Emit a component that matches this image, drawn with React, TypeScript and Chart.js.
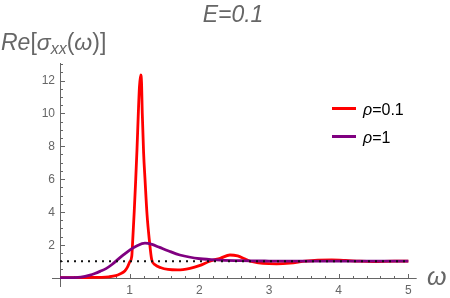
import React, { useEffect, useRef } from "react";
import { Chart, registerables } from "chart.js";

Chart.register(...registerables);

// ---- data ----
const omegaRed = [
  0, 0.2, 0.4, 0.6, 0.7, 0.8, 0.86, 0.93, 0.97, 1.0, 1.03, 1.044, 1.065, 1.087,
  1.105, 1.124, 1.14, 1.158, 1.17, 1.181, 1.2, 1.22, 1.25, 1.282, 1.316, 1.36,
  1.45, 1.55, 1.69, 1.866, 2.0, 2.15, 2.3, 2.44, 2.55, 2.65, 2.73, 2.85, 3.0,
  3.11, 3.3, 3.52, 3.7, 3.9, 4.1, 4.3, 4.5, 4.8, 5.0,
];
const sigmaRed = [
  0, 0, 0.01, 0.02, 0.05, 0.12, 0.22, 0.4, 0.65, 0.95, 1.3, 2.3, 4.0, 6.0,
  7.8, 10.0, 11.6, 12.35, 11.9, 10.0, 7.6, 6.0, 3.8, 2.3, 1.1, 0.8,
  0.6, 0.5, 0.47, 0.57, 0.73, 1.0, 1.18, 1.38, 1.32, 1.15, 1.0, 0.9, 0.85,
  0.84, 0.88, 1.0, 1.06, 1.08, 1.05, 1.0, 0.98, 1.0, 1.0,
];
const omegaPurple = [
  0, 0.2, 0.3, 0.43, 0.5, 0.574, 0.66, 0.746, 0.861, 0.93, 1.005, 1.1, 1.22,
  1.32, 1.43, 1.55, 1.72, 2.01, 2.3, 2.6, 3.0, 3.5, 4.0, 4.5, 5.0,
];
const sigmaPurple = [
  0, 0.005, 0.03, 0.15, 0.25, 0.38, 0.55, 0.8, 1.22, 1.45, 1.69, 1.93, 2.1,
  2.02, 1.84, 1.64, 1.38, 1.15, 1.07, 1.03, 1.01, 1.0, 1.0, 1.0, 1.0,
];
const refOmega = [0, 5];
const refSigma = [1, 1];

const xMajorTicks = [1, 2, 3, 4, 5];
const yMajorTicks = [2, 4, 6, 8, 10, 12];
const legendRho = ["0.1", "1"];
const titleText = "E=0.1";

const RED = "#ff0000";
const PURPLE = "#800080";
const GRAY = "#666666";
const FONT = "'Liberation Sans', Arial, sans-serif";

type Seg = { t: string; it?: boolean; size: number; dy?: number };

function drawSegs(ctx: CanvasRenderingContext2D, segs: Seg[], x: number, y: number, color: string, align: "left" | "center" = "left") {
  ctx.save();
  ctx.fillStyle = color;
  ctx.textBaseline = "alphabetic";
  ctx.textAlign = "left";
  let total = 0;
  for (const s of segs) {
    ctx.font = `${s.it ? "italic " : ""}${s.size}px ${FONT}`;
    total += ctx.measureText(s.t).width;
  }
  let cx = align === "center" ? x - total / 2 : x;
  for (const s of segs) {
    ctx.font = `${s.it ? "italic " : ""}${s.size}px ${FONT}`;
    ctx.fillText(s.t, cx, y + (s.dy || 0));
    cx += ctx.measureText(s.t).width;
  }
  ctx.restore();
}

const axesPlugin = {
  id: "mmaAxes",
  beforeDatasetsDraw(chart: any) {
    const { ctx, chartArea } = chart;
    const xs = chart.scales.x;
    const ys = chart.scales.y;
    const x0 = Math.round(xs.getPixelForValue(0)) + 0.5;
    const y0 = Math.round(ys.getPixelForValue(0)) + 0.5;
    ctx.save();
    ctx.strokeStyle = GRAY;
    ctx.lineWidth = 1;
    ctx.beginPath();
    ctx.moveTo(chartArea.left, y0);
    ctx.lineTo(chartArea.right, y0);
    ctx.moveTo(x0, chartArea.top);
    ctx.lineTo(x0, chartArea.bottom);
    // x ticks (minor every 0.2, major on integers)
    for (let i = 1; i <= 25; i++) {
      const v = i * 0.2;
      const px = Math.round(xs.getPixelForValue(v)) + 0.5;
      const major = i % 5 === 0;
      ctx.moveTo(px, y0);
      ctx.lineTo(px, y0 - (major ? 4.5 : 2.5));
    }
    // y ticks (minor every 0.5, major every 2)
    for (let i = 1; i <= 26; i++) {
      const v = i * 0.5;
      const py = Math.round(ys.getPixelForValue(v)) + 0.5;
      const major = i % 4 === 0;
      ctx.moveTo(x0, py);
      ctx.lineTo(x0 + (major ? 4.5 : 2.5), py);
    }
    ctx.stroke();

    ctx.fillStyle = GRAY;
    ctx.font = `12px ${FONT}`;
    ctx.textAlign = "center";
    ctx.textBaseline = "alphabetic";
    for (const v of xMajorTicks) {
      ctx.fillText(String(v), xs.getPixelForValue(v), 293.5);
    }
    ctx.textAlign = "right";
    ctx.textBaseline = "middle";
    for (const v of yMajorTicks) {
      ctx.fillText(String(v), x0 - 5.5, ys.getPixelForValue(v) + 0.5);
    }
    ctx.restore();
  },
  afterDraw(chart: any) {
    const { ctx } = chart;
    // title
    drawSegs(ctx, [
      { t: titleText, it: true, size: 23 },
    ], 233, 21.5, GRAY, "center");
    // y label
    drawSegs(ctx, [
      { t: "Re", it: true, size: 23 },
      { t: "[", size: 23 },
      { t: "σ", it: true, size: 23 },
      { t: "xx", it: true, size: 16, dy: 4 },
      { t: "(", size: 23 },
      { t: "ω", it: true, size: 23 },
      { t: ")", size: 23 },
      { t: "]", size: 23 },
    ], 1, 50, GRAY);
    // x label
    drawSegs(ctx, [{ t: "ω", it: true, size: 25 }], 427, 285, GRAY);
    // legend
    const rows = [
      { color: RED, rho: legendRho[0], y: 108.5 },
      { color: PURPLE, rho: legendRho[1], y: 136.5 },
    ];
    ctx.save();
    for (const r of rows) {
      ctx.strokeStyle = r.color;
      ctx.lineWidth = 3;
      ctx.beginPath();
      ctx.moveTo(332, r.y);
      ctx.lineTo(356, r.y);
      ctx.stroke();
      drawSegs(ctx, [
        { t: "ρ", it: true, size: 16 },
        { t: "=" + r.rho, size: 16 },
      ], 363, r.y + 6, "#000000");
    }
    ctx.restore();
  },
};

function pts(xs: number[], ys: number[]) {
  return xs.map((x, i) => ({ x, y: ys[i] }));
}

export default function App() {
  const ref = useRef<HTMLCanvasElement | null>(null);
  useEffect(() => {
    if (!ref.current) return;
    const chart = new Chart(ref.current, {
      type: "line",
      data: {
        datasets: [
          {
            label: "ref",
            data: pts(refOmega, refSigma),
            borderColor: "#111111",
            borderWidth: 2,
            borderDash: [2, 5],
            pointRadius: 0,
            fill: false,
          },
          {
            label: "ρ=1",
            data: pts(omegaPurple, sigmaPurple),
            borderColor: PURPLE,
            borderWidth: 2.8,
            pointRadius: 0,
            cubicInterpolationMode: "monotone",
            fill: false,
          },
          {
            label: "ρ=0.1",
            data: pts(omegaRed, sigmaRed),
            borderColor: RED,
            borderWidth: 2.8,
            pointRadius: 0,
            cubicInterpolationMode: "monotone",
            fill: false,
          },
        ],
      },
      options: {
        animation: false,
        responsive: false,
        devicePixelRatio: 1,
        layout: { padding: { left: 52, right: 33.3, top: 63, bottom: 11 } },
        scales: {
          x: { type: "linear", min: -0.115, max: 5.12, display: false },
          y: { type: "linear", min: -0.57, max: 13.07, display: false },
        },
        plugins: {
          legend: { display: false },
          title: { display: false },
          tooltip: { enabled: false },
        },
        events: [],
      },
      plugins: [axesPlugin],
    });
    return () => chart.destroy();
  }, []);
  return (
    <div style={{ position: "fixed", left: 0, top: 0, width: 450, height: 298, background: "#fff" }}>
      <canvas ref={ref} width={450} height={298} style={{ width: 450, height: 298, display: "block" }} />
    </div>
  );
}
